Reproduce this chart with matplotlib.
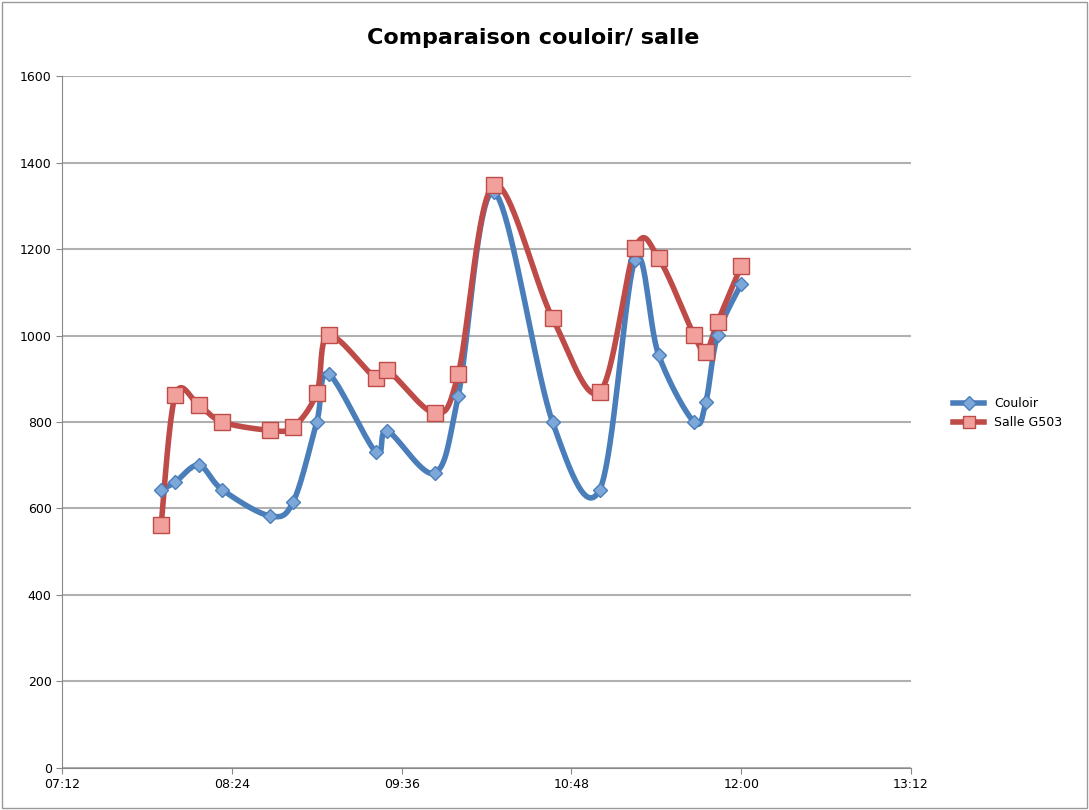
import matplotlib.pyplot as plt
import numpy as np

times = ["07:54", "08:00", "08:10", "08:20", "08:40", "08:50", "09:00", "09:05", "09:25", "09:30",
         "09:50", "10:00", "10:15", "10:40", "11:00", "11:15", "11:25", "11:40", "11:45", "11:50", "12:00"]
couloir = [643, 661, 700, 643, 583, 615, 800, 911, 731, 779, 682, 860, 1332, 800, 643, 1175, 955, 800, 846, 1001, 1119]
salle = [562, 862, 839, 800, 781, 788, 867, 1001, 902, 920, 821, 911, 1348, 1040, 869, 1202, 1179, 1001, 962, 1031, 1161]
tick_labels = ["07:12", "08:24", "09:36", "10:48", "12:00", "13:12"]


def to_min(t):
    h, m = t.split(":")
    return int(h) * 60 + int(m)


def smooth(x, y, n=20):
    # Catmull-Rom style smoothing, similar to Excel's smoothed lines
    x = np.asarray(x, float)
    y = np.asarray(y, float)
    px = np.concatenate([[x[0]], x, [x[-1]]])
    py = np.concatenate([[y[0]], y, [y[-1]]])
    xs, ys = [], []
    t = np.linspace(0, 1, n)
    for i in range(1, len(px) - 2):
        for p, out in ((px, xs), (py, ys)):
            p0, p1, p2, p3 = p[i - 1], p[i], p[i + 1], p[i + 2]
            m1 = (p2 - p0) / 6
            m2 = (p3 - p1) / 6
            c1, c2 = p1 + m1, p2 - m2
            out.extend((1 - t) ** 3 * p1 + 3 * (1 - t) ** 2 * t * c1 + 3 * (1 - t) * t ** 2 * c2 + t ** 3 * p2)
    return xs, ys


x = [to_min(t) for t in times]
ticks = [to_min(t) for t in tick_labels]

fig = plt.figure(figsize=(10.89, 8.1), dpi=100)
ax = fig.add_axes([0.057, 0.052, 0.7795, 0.854])

blue = "#4a7ebb"
red = "#be4b48"
sx, sy = smooth(x, couloir)
ax.plot(sx, sy, color=blue, lw=4, zorder=3)
ax.plot(x, couloir, "D", color="#7da7d9", mec=blue, ms=7, zorder=4)
ax.plot([], [], color=blue, lw=4, marker="D", mfc="#7da7d9", mec=blue, ms=7, label="Couloir")

sx, sy = smooth(x, salle)
ax.plot(sx, sy, color=red, lw=4, zorder=3)
ax.plot(x, salle, "s", color="#f2a09c", mec=red, ms=11, zorder=4)
ax.plot([], [], color=red, lw=4, marker="s", mfc="#f2a09c", mec=red, ms=9, label="Salle G503")

ax.set_xlim(ticks[0], ticks[-1])
ax.set_ylim(0, 1600)
ax.set_xticks(ticks)
ax.set_xticklabels(tick_labels)
ax.set_yticks(range(0, 1601, 200))
ax.tick_params(labelsize=9, length=4, color="#888888")
ax.yaxis.grid(True, color="#b0b0b0", lw=1.5)
ax.set_axisbelow(True)
for s in ["top", "right"]:
    ax.spines[s].set_visible(False)
for s in ["left", "bottom"]:
    ax.spines[s].set_color("#888888")

fig.suptitle("Comparaison couloir/ salle", x=0.49, y=0.965, fontsize=16, fontweight="bold")
fig.legend(loc="center left", bbox_to_anchor=(0.865, 0.49), frameon=False, fontsize=9, handlelength=2.5)
fig.patches.append(plt.Rectangle((0.002, 0.002), 0.996, 0.996, transform=fig.transFigure,
                                 fill=False, ec="#999999", lw=1))
fig.savefig("out.png")
